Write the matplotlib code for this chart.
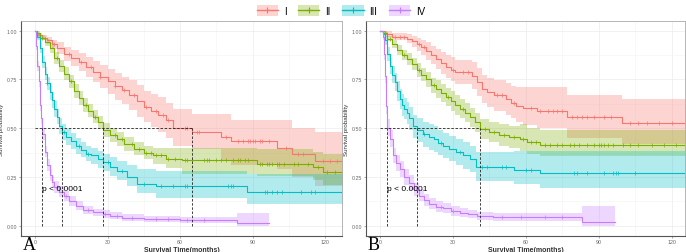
import numpy as np
import matplotlib
matplotlib.use('Agg')
import matplotlib.pyplot as plt
from matplotlib.patches import Patch
from matplotlib.lines import Line2D
from matplotlib.ticker import MultipleLocator

plt.rcParams['font.family'] = ['Liberation Sans', 'DejaVu Sans']

groups = ['I', 'II', 'III', 'IV']
colors = ['#F8766D', '#7CAE00', '#00BFC4', '#C77CFF']

# ---- panel A ----
aTimeI = [0, 1, 3, 5, 7, 9, 12, 15, 18, 21, 24, 27, 30, 33, 36, 39, 42, 45, 48, 51, 54, 57, 65, 77, 81, 100, 106.5, 116]
aSurvI = [1.0, 0.98, 0.965, 0.95, 0.93, 0.91, 0.88, 0.86, 0.84, 0.815, 0.79, 0.765, 0.74, 0.715, 0.695, 0.67, 0.64, 0.61, 0.59, 0.57, 0.54, 0.50, 0.483, 0.454, 0.432, 0.397, 0.368, 0.334]
aLowI = [1.0, 0.97, 0.95, 0.93, 0.905, 0.88, 0.845, 0.82, 0.795, 0.765, 0.735, 0.705, 0.675, 0.645, 0.625, 0.595, 0.56, 0.53, 0.505, 0.48, 0.45, 0.41, 0.395, 0.33, 0.31, 0.29, 0.25, 0.205]
aUpI = [1.0, 0.99, 0.98, 0.97, 0.955, 0.94, 0.915, 0.9, 0.885, 0.865, 0.845, 0.825, 0.805, 0.785, 0.765, 0.745, 0.72, 0.69, 0.675, 0.66, 0.63, 0.60, 0.575, 0.574, 0.54, 0.54, 0.50, 0.48]
aCensI = [2, 4, 8, 14, 19, 23, 27, 33, 37, 41, 46, 50, 53, 55, 62, 63, 67, 68, 79, 84, 86, 88, 89, 90, 91, 93, 94, 97, 104, 109, 111, 119, 122, 125]

aTimeII = [0, 1, 2, 4, 6, 8, 10, 12, 14, 16, 18, 20, 22, 24, 26, 28, 31, 34, 37, 41, 45, 49, 54, 61, 92, 115, 119]
aSurvII = [1.0, 0.99, 0.965, 0.94, 0.91, 0.86, 0.82, 0.78, 0.74, 0.69, 0.655, 0.62, 0.59, 0.56, 0.53, 0.49, 0.465, 0.445, 0.42, 0.394, 0.375, 0.36, 0.343, 0.335, 0.317, 0.30, 0.274]
aLowII = [1.0, 0.98, 0.95, 0.92, 0.885, 0.83, 0.79, 0.745, 0.705, 0.655, 0.62, 0.585, 0.555, 0.525, 0.495, 0.455, 0.43, 0.41, 0.385, 0.36, 0.34, 0.315, 0.295, 0.265, 0.257, 0.235, 0.21]
aUpII = [1.0, 1.0, 0.98, 0.96, 0.935, 0.89, 0.85, 0.815, 0.775, 0.725, 0.69, 0.655, 0.625, 0.595, 0.565, 0.525, 0.50, 0.48, 0.455, 0.43, 0.41, 0.40, 0.40, 0.40, 0.393, 0.38, 0.37]
aCensII = [3, 9, 15, 21, 25, 33, 36, 40, 43, 46, 48, 50, 52, 55, 58, 62, 63, 65, 70, 71, 72, 75, 77, 79, 82, 84, 85, 87, 88, 93, 94, 96, 97, 98, 100, 101, 103, 107, 109, 113, 117, 121, 124]

aTimeIII = [0, 1, 2, 3, 4, 5, 6, 7, 8, 9, 10, 11, 13, 15, 17, 19, 21, 23, 26, 28, 31, 34, 38, 42, 50, 87.5]
aSurvIII = [1.0, 0.97, 0.91, 0.84, 0.78, 0.73, 0.685, 0.645, 0.60, 0.56, 0.51, 0.48, 0.455, 0.435, 0.41, 0.39, 0.37, 0.36, 0.34, 0.325, 0.30, 0.28, 0.25, 0.215, 0.205, 0.175]
aLowIII = [1.0, 0.955, 0.885, 0.81, 0.745, 0.695, 0.645, 0.605, 0.56, 0.52, 0.47, 0.44, 0.415, 0.395, 0.37, 0.35, 0.33, 0.315, 0.295, 0.28, 0.255, 0.235, 0.205, 0.17, 0.14, 0.11]
aUpIII = [1.0, 0.985, 0.935, 0.87, 0.815, 0.765, 0.725, 0.685, 0.64, 0.60, 0.55, 0.52, 0.495, 0.475, 0.45, 0.43, 0.41, 0.40, 0.385, 0.37, 0.35, 0.33, 0.31, 0.29, 0.283, 0.265]
aCensIII = [5, 12, 18, 22, 30, 36, 45, 52, 57, 62, 63, 80, 81, 82, 95, 96, 98, 100, 102, 110, 114, 116]

aTimeIV = [0, 0.5, 1, 1.5, 2, 2.5, 3, 4, 5, 6, 7, 8, 10, 12, 14, 17, 20, 24, 28, 31, 36, 45, 60, 83.5]
aSurvIV = [1.0, 0.92, 0.82, 0.74, 0.62, 0.55, 0.47, 0.38, 0.31, 0.26, 0.225, 0.20, 0.175, 0.15, 0.125, 0.10, 0.08, 0.068, 0.058, 0.05, 0.04, 0.034, 0.028, 0.014]
aLowIV = [1.0, 0.90, 0.795, 0.71, 0.59, 0.52, 0.44, 0.35, 0.28, 0.23, 0.195, 0.17, 0.148, 0.125, 0.10, 0.08, 0.06, 0.05, 0.04, 0.034, 0.025, 0.02, 0.015, 0.0]
aUpIV = [1.0, 0.94, 0.845, 0.77, 0.65, 0.58, 0.50, 0.41, 0.34, 0.29, 0.255, 0.23, 0.205, 0.178, 0.152, 0.125, 0.102, 0.088, 0.078, 0.07, 0.058, 0.052, 0.045, 0.065]
aCensIV = [9, 13, 22, 29, 34, 40, 50, 55, 63, 70]

aEnd = [130, 130, 130, 97]
aMedians = [3, 11, 28, 65]

# ---- panel B ----
bTimeI = [0, 2, 5, 11, 13, 15, 17, 19, 21, 23, 25, 27, 29, 31, 38, 40, 42, 44, 47, 52, 54, 56, 59, 64.4, 76.8, 99.4]
bSurvI = [1.0, 0.985, 0.97, 0.96, 0.945, 0.93, 0.915, 0.895, 0.875, 0.855, 0.835, 0.815, 0.80, 0.788, 0.77, 0.735, 0.70, 0.685, 0.668, 0.65, 0.63, 0.616, 0.603, 0.59, 0.557, 0.526]
bLowI = [1.0, 0.97, 0.95, 0.935, 0.915, 0.895, 0.875, 0.85, 0.83, 0.805, 0.78, 0.76, 0.74, 0.725, 0.70, 0.665, 0.63, 0.61, 0.59, 0.57, 0.55, 0.53, 0.515, 0.50, 0.45, 0.42]
bUpI = [1.0, 1.0, 0.99, 0.985, 0.975, 0.965, 0.955, 0.94, 0.92, 0.905, 0.89, 0.875, 0.865, 0.85, 0.84, 0.81, 0.775, 0.76, 0.745, 0.73, 0.715, 0.71, 0.71, 0.71, 0.668, 0.65]
bCensI = [3, 6, 8, 10, 16, 18, 30, 34, 36, 48, 50, 55, 62, 66, 69, 71, 73, 75, 79, 81, 83, 85, 88, 92, 95, 103, 106, 110, 115, 120]

bTimeII = [0, 1, 3, 5, 7, 9, 11, 13, 15, 17, 19, 21, 23, 25, 27, 29, 31, 33, 35, 37, 39, 41, 45, 49, 53, 57.6, 60.3, 66]
bSurvII = [1.0, 0.99, 0.96, 0.93, 0.90, 0.875, 0.855, 0.83, 0.80, 0.775, 0.75, 0.72, 0.70, 0.68, 0.66, 0.64, 0.62, 0.60, 0.58, 0.556, 0.53, 0.495, 0.48, 0.465, 0.454, 0.445, 0.428, 0.416]
bLowII = [1.0, 0.98, 0.945, 0.91, 0.875, 0.85, 0.825, 0.80, 0.765, 0.74, 0.71, 0.68, 0.655, 0.635, 0.615, 0.59, 0.57, 0.55, 0.53, 0.505, 0.48, 0.445, 0.43, 0.41, 0.40, 0.385, 0.37, 0.355]
bUpII = [1.0, 1.0, 0.975, 0.95, 0.925, 0.90, 0.885, 0.86, 0.835, 0.81, 0.79, 0.76, 0.745, 0.725, 0.705, 0.69, 0.67, 0.65, 0.63, 0.605, 0.58, 0.545, 0.53, 0.52, 0.51, 0.52, 0.50, 0.49]
bCensII = [4, 10, 16, 22, 28, 34, 43, 47, 51, 55, 59, 62, 64, 68, 70, 73, 75, 78, 80, 82, 85, 88, 90, 91, 92, 94, 96, 100, 103, 106, 112, 117, 122]

bTimeIII = [0, 1, 2, 3, 4, 5, 6, 7, 8, 9, 10, 11, 12, 13.6, 15, 17.7, 20, 22, 24, 26, 28.5, 31.4, 34, 37, 39.6, 55, 66]
bSurvIII = [1.0, 0.985, 0.95, 0.88, 0.82, 0.775, 0.736, 0.69, 0.65, 0.62, 0.60, 0.58, 0.55, 0.51, 0.49, 0.47, 0.455, 0.445, 0.425, 0.41, 0.395, 0.377, 0.36, 0.342, 0.30, 0.288, 0.269]
bLowIII = [1.0, 0.97, 0.925, 0.845, 0.78, 0.73, 0.69, 0.64, 0.60, 0.565, 0.545, 0.52, 0.49, 0.45, 0.43, 0.405, 0.39, 0.38, 0.36, 0.345, 0.33, 0.31, 0.29, 0.275, 0.23, 0.215, 0.195]
bUpIII = [1.0, 1.0, 0.975, 0.915, 0.86, 0.82, 0.785, 0.74, 0.70, 0.675, 0.655, 0.635, 0.61, 0.57, 0.55, 0.53, 0.52, 0.51, 0.49, 0.475, 0.46, 0.445, 0.43, 0.41, 0.38, 0.384, 0.384]
bCensIII = [18, 25, 33, 42, 44, 50, 52, 60, 62, 80, 81, 85, 92, 96, 97, 98, 105]

bTimeIV = [0, 1, 1.5, 2, 2.6, 3, 4, 5.3, 6.5, 8, 10, 12, 14, 16, 18, 20, 23, 26, 29, 33, 36, 40, 46.5, 83]
bSurvIV = [1.0, 0.97, 0.88, 0.77, 0.616, 0.50, 0.445, 0.36, 0.32, 0.29, 0.25, 0.22, 0.185, 0.154, 0.13, 0.11, 0.098, 0.089, 0.075, 0.065, 0.058, 0.05, 0.043, 0.02]
bLowIV = [1.0, 0.95, 0.85, 0.73, 0.575, 0.46, 0.405, 0.32, 0.28, 0.25, 0.21, 0.185, 0.15, 0.125, 0.10, 0.083, 0.072, 0.064, 0.052, 0.043, 0.037, 0.03, 0.025, 0.0]
bUpIV = [1.0, 0.99, 0.91, 0.81, 0.66, 0.545, 0.49, 0.40, 0.36, 0.33, 0.29, 0.26, 0.22, 0.19, 0.16, 0.14, 0.128, 0.118, 0.102, 0.09, 0.082, 0.072, 0.065, 0.10]
bCensIV = [25, 30, 50, 58, 68, 75]

bEnd = [130, 130, 130, 96.5]
bMedians = [3, 15.2, 41]


def drawCurve(ax, t, s, lo, hi, tEnd, cens, color):
    t = np.append(t, tEnd)
    s = np.append(s, s[-1])
    lo = np.append(lo, lo[-1])
    hi = np.append(hi, hi[-1])
    ax.fill_between(t, lo, hi, step='post', color=color, alpha=0.3, lw=0)
    ax.step(t, s, where='post', color=color, lw=0.8)
    cens = np.array(cens)
    cy = s[np.searchsorted(t, cens, side='right') - 1]
    ax.plot(cens, cy, '+', color=color, ms=2.5, mew=0.5)


def drawPanel(ax, series, ends, medians, xmax):
    for (t, s, lo, hi, cens), tEnd, c in zip(series, ends, colors):
        drawCurve(ax, t, s, lo, hi, tEnd, cens, c)
    # median lines
    ax.plot([0, max(medians)], [0.5, 0.5], ls=(0, (3, 2)), color='#222222', lw=0.6)
    for m in medians:
        ax.plot([m, m], [0, 0.5], ls=(0, (3, 2)), color='#222222', lw=0.6)
    ax.text(3, 0.19, 'p < 0.0001', fontsize=6, va='center', ha='left')

    ax.set_xlim(-5.8, xmax)
    ax.set_ylim(-0.053, 1.05)
    ax.xaxis.set_major_locator(MultipleLocator(30))
    ax.xaxis.set_minor_locator(MultipleLocator(15))
    ax.yaxis.set_major_locator(MultipleLocator(0.25))
    ax.yaxis.set_minor_locator(MultipleLocator(0.125))
    ax.yaxis.set_major_formatter(plt.FuncFormatter(lambda v, p: '%.2f' % v))
    ax.grid(which='major', color='#EBEBEB', lw=0.5)
    ax.grid(which='minor', color='#F4F4F4', lw=0.4)
    ax.set_axisbelow(True)
    ax.tick_params(which='major', labelsize=3.8, length=1.5, width=0.4, colors='#666666', pad=1)
    ax.tick_params(which='minor', length=0)
    for side in ['top', 'right']:
        ax.spines[side].set_color('#AAAAAA')
        ax.spines[side].set_linewidth(0.6)
    for side in ['left', 'bottom']:
        ax.spines[side].set_color('#555555')
        ax.spines[side].set_linewidth(0.8)
    ax.set_xlabel('Survival Time(months)', fontsize=5, fontweight='bold', color='#333333', labelpad=1)
    ax.set_ylabel('Survival probability', fontsize=4.5, color='#333333', labelpad=2)


fig = plt.figure(figsize=(6.86, 2.53), dpi=100)
axA = fig.add_axes([21 / 686, 1 - 237 / 253, 321 / 686, 215 / 253])
axB = fig.add_axes([366 / 686, 1 - 237 / 253, 319 / 686, 215 / 253])

seriesA = [(aTimeI, aSurvI, aLowI, aUpI, aCensI),
           (aTimeII, aSurvII, aLowII, aUpII, aCensII),
           (aTimeIII, aSurvIII, aLowIII, aUpIII, aCensIII),
           (aTimeIV, aSurvIV, aLowIV, aUpIV, aCensIV)]
seriesB = [(bTimeI, bSurvI, bLowI, bUpI, bCensI),
           (bTimeII, bSurvII, bLowII, bUpII, bCensII),
           (bTimeIII, bSurvIII, bLowIII, bUpIII, bCensIII),
           (bTimeIV, bSurvIV, bLowIV, bUpIV, bCensIV)]

drawPanel(axA, seriesA, aEnd, aMedians, 127)
drawPanel(axB, seriesB, bEnd, bMedians, 125.5)

# legend across the top
handles = [(Patch(facecolor=c, alpha=0.3, lw=0), Line2D([], [], color=c, marker='+', ms=4, mew=0.8, lw=1))
           for c in colors]
fig.legend(handles, groups, loc='upper center', bbox_to_anchor=(0.497, 1.01), ncol=4, frameon=False,
           fontsize=7, handlelength=2.2, handleheight=1.4, columnspacing=1.2, handletextpad=0.6)

# panel letters
fig.text(23 / 686, 1 - 250 / 253, 'A', fontsize=13, family=['Liberation Serif', 'DejaVu Serif'], va='baseline')
fig.text(368 / 686, 1 - 250 / 253, 'B', fontsize=13, family=['Liberation Serif', 'DejaVu Serif'], va='baseline')

fig.savefig('out.png', dpi=100)
